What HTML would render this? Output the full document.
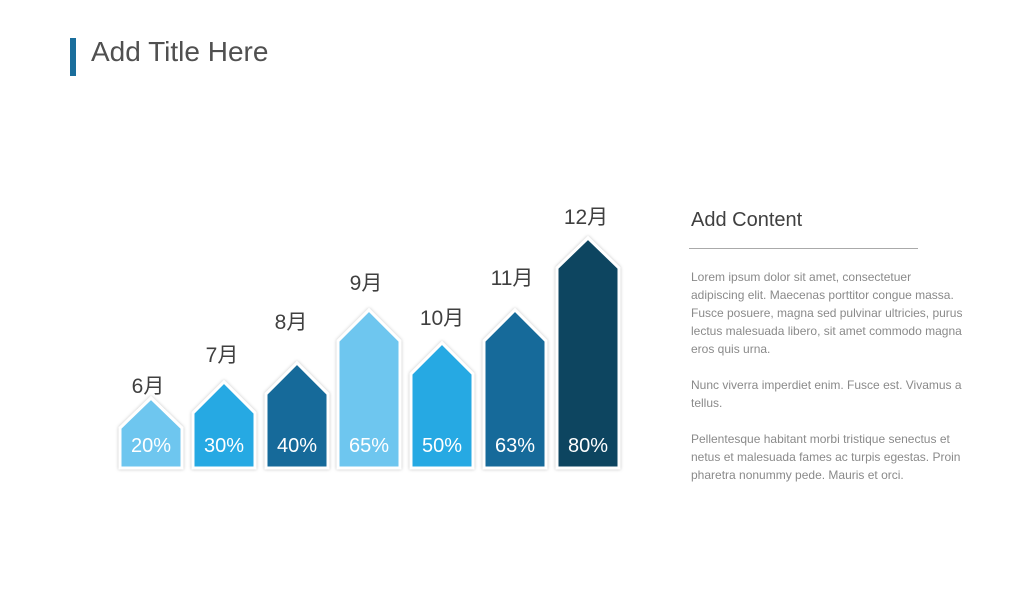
<!DOCTYPE html>
<html><head><meta charset="utf-8"><style>
body{margin:0;width:1036px;height:600px;background:#fff;overflow:hidden;font-family:"Liberation Sans","Noto Sans CJK SC",sans-serif;position:relative}
.t{position:absolute;left:91px;top:36px;font-size:28px;color:#505050}
.bar{position:absolute;left:70px;top:38px;width:6px;height:38px;background:#1a6e9c}
.h{position:absolute;left:691px;top:209px;font-size:20px;color:#404040}
.line{position:absolute;left:689px;top:248px;width:229px;height:1px;background:#aaa}
.p{position:absolute;left:691px;font-size:12px;line-height:18px;color:#8a8a8a;white-space:nowrap}
</style></head><body>
<div class="bar"></div><div class="t">Add Title Here</div>
<div class="h">Add Content</div><div class="line"></div>
<div class="p" style="top:268px">Lorem ipsum dolor sit amet, consectetuer<br>adipiscing elit. Maecenas porttitor congue massa.<br>Fusce posuere, magna sed pulvinar ultricies, purus<br>lectus malesuada libero, sit amet commodo magna<br>eros quis urna.</div>
<div class="p" style="top:376px">Nunc viverra imperdiet enim. Fusce est. Vivamus a<br>tellus.</div>
<div class="p" style="top:430px">Pellentesque habitant morbi tristique senectus et<br>netus et malesuada fames ac turpis egestas. Proin<br>pharetra nonummy pede. Mauris et orci.</div>
<svg width="1036" height="600" style="position:absolute;left:0;top:0">
<defs><filter id="s" x="-20%" y="-20%" width="140%" height="140%"><feDropShadow dx="0" dy="0" stdDeviation="1.5" flood-color="#000" flood-opacity="0.25"/></filter></defs>
<g font-family="Liberation Sans, Noto Sans CJK SC, sans-serif" font-size="20" text-anchor="middle" stroke-linejoin="miter">
<path filter="url(#s)" stroke="#fff" stroke-width="3" fill="#6ec6ef" d="M120 468V428L151 398L182 428V468Z"/>
<path filter="url(#s)" stroke="#fff" stroke-width="3" fill="#27a9e3" d="M193 468V413L224 382L255 413V468Z"/>
<path filter="url(#s)" stroke="#fff" stroke-width="3" fill="#126b9a" d="M266 468V394L297 363L328 394V468Z"/>
<path filter="url(#s)" stroke="#fff" stroke-width="3" fill="#6ec6ef" d="M338 468V341L369 310L400 341V468Z"/>
<path filter="url(#s)" stroke="#fff" stroke-width="3" fill="#27a9e3" d="M411 468V374L442 343L473 374V468Z"/>
<path filter="url(#s)" stroke="#fff" stroke-width="3" fill="#126b9a" d="M484 468V341L515 310L546 341V468Z"/>
<path filter="url(#s)" stroke="#fff" stroke-width="3" fill="#0b4560" d="M557 468V268L588 238L619 268V468Z"/>
<g fill="#fff"><text x="151" y="452">20%</text><text x="224" y="452">30%</text><text x="297" y="452">40%</text><text x="369" y="452">65%</text><text x="442" y="452">50%</text><text x="515" y="452">63%</text><text x="588" y="452">80%</text></g>
<g fill="#404040" font-size="21"><text x="148" y="393">6月</text><text x="222" y="362">7月</text><text x="291" y="329">8月</text><text x="366" y="290">9月</text><text x="442" y="325">10月</text><text x="512" y="285">11月</text><text x="586" y="224">12月</text></g>
</g></svg>
</body></html>
